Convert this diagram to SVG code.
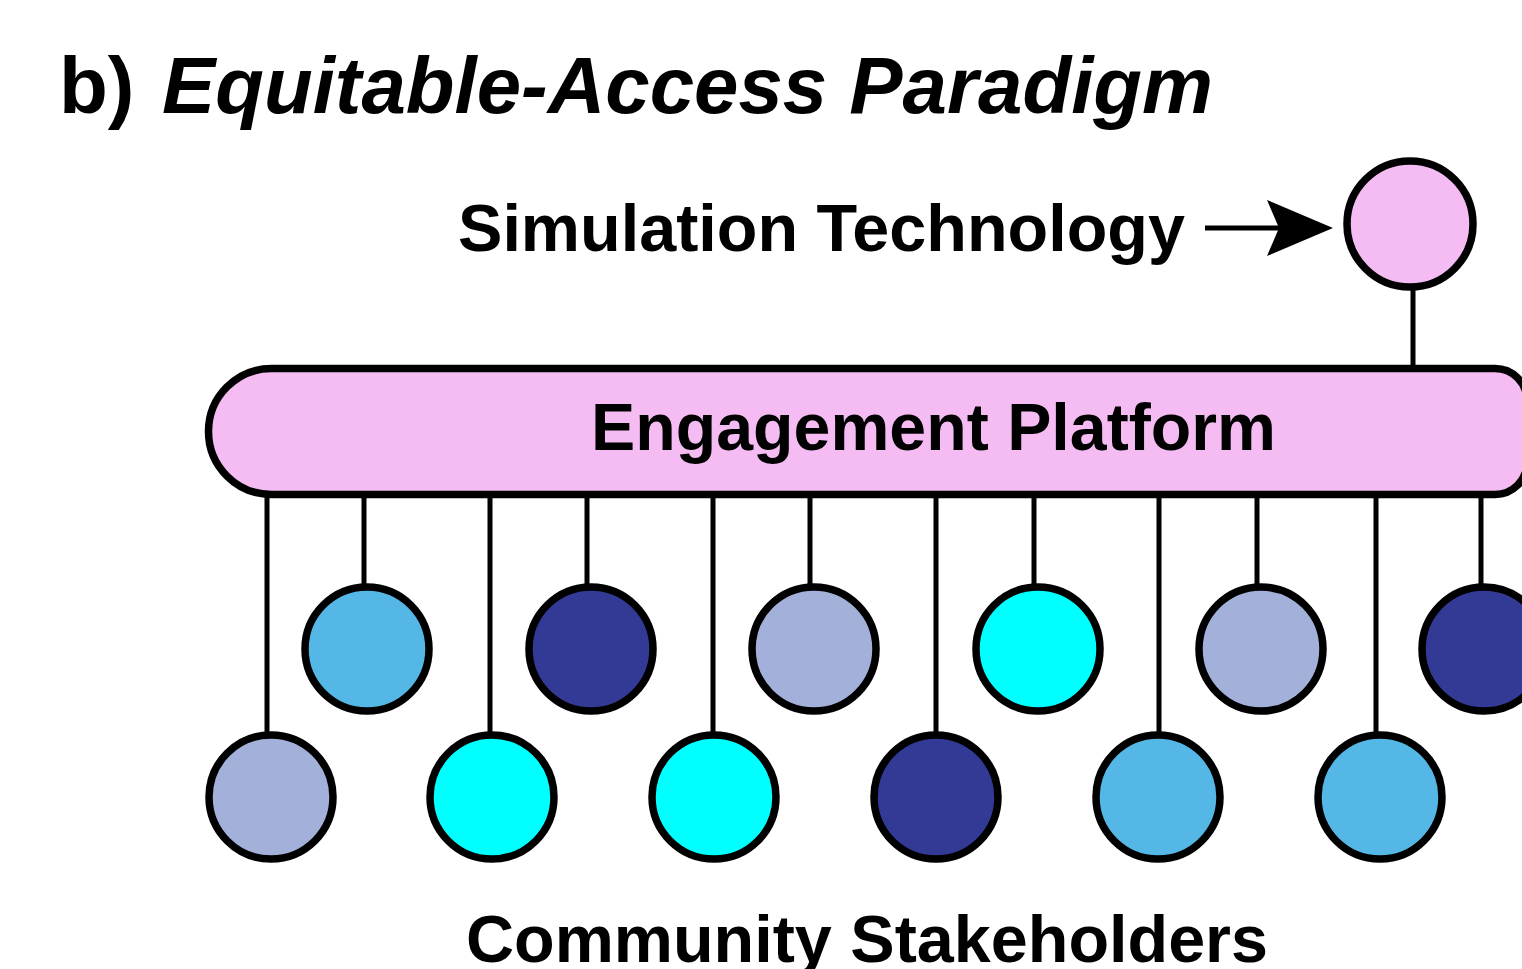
<svg xmlns="http://www.w3.org/2000/svg" width="1522" height="969" viewBox="0 0 1522 969">
  <style>
    .lbl { font-family: "Liberation Sans", Arial, Helvetica, sans-serif; font-weight: bold; fill: #000; }
    .node { stroke: #000; stroke-width: 7.5; }
    .link { stroke: #000; stroke-width: 5; fill: none; }
    .pink { fill: #F4BCF2; }
    .sky { fill: #55B7E6; }
    .navy { fill: #333A96; }
    .lav { fill: #A3B0DA; }
    .cyan { fill: #00FFFF; }
  </style>
  <rect width="1522" height="969" fill="#ffffff"/>

  <!-- heading -->
  <g id="title">
    <text class="lbl" x="59" y="113" font-size="80">b)</text>
    <text class="lbl" x="162" y="113" font-size="80" font-style="italic" textLength="1051" lengthAdjust="spacingAndGlyphs">Equitable-Access Paradigm</text>
  </g>

  <!-- connectors -->
  <g id="connectors">
    <line class="link" x1="1205" y1="228" x2="1282" y2="228"/>
    <polygon points="1333,228 1267,200 1279,228 1267,256" fill="#000"/>
    <line class="link" x1="1413" y1="288" x2="1413" y2="370"/>
    <!-- stems to the lower row -->
    <line class="link" x1="267" y1="494" x2="267" y2="734"/>
    <line class="link" x1="490" y1="494" x2="490" y2="734"/>
    <line class="link" x1="713" y1="494" x2="713" y2="734"/>
    <line class="link" x1="936" y1="494" x2="936" y2="734"/>
    <line class="link" x1="1159" y1="494" x2="1159" y2="734"/>
    <line class="link" x1="1376" y1="494" x2="1376" y2="734"/>
    <!-- stems to the upper row -->
    <line class="link" x1="364" y1="494" x2="364" y2="585"/>
    <line class="link" x1="587" y1="494" x2="587" y2="585"/>
    <line class="link" x1="810" y1="494" x2="810" y2="585"/>
    <line class="link" x1="1034" y1="494" x2="1034" y2="585"/>
    <line class="link" x1="1257" y1="494" x2="1257" y2="585"/>
    <line class="link" x1="1481" y1="494" x2="1481" y2="585"/>
  </g>

  <g id="simulation-technology">
    <text class="lbl" x="458" y="251" font-size="67" textLength="727" lengthAdjust="spacingAndGlyphs">Simulation Technology</text>
    <circle class="node pink" cx="1410" cy="224" r="63"/>
  </g>

  <g id="engagement-platform">
    <path class="node pink" d="M271.5 368.5 H1495 A32 32 0 0 1 1527 400.5 V462.5 A32 32 0 0 1 1495 494.5 H271.5 A63 63 0 0 1 271.5 368.5 Z"/>
    <text class="lbl" x="591" y="450" font-size="66" textLength="685" lengthAdjust="spacingAndGlyphs">Engagement Platform</text>
  </g>

  <!-- upper row of stakeholders -->
  <g id="stakeholder-u1"><circle class="node sky" cx="367" cy="649" r="62"/></g>
  <g id="stakeholder-u2"><circle class="node navy" cx="591" cy="649" r="62"/></g>
  <g id="stakeholder-u3"><circle class="node lav" cx="814" cy="649" r="62"/></g>
  <g id="stakeholder-u4"><circle class="node cyan" cx="1038" cy="649" r="62"/></g>
  <g id="stakeholder-u5"><circle class="node lav" cx="1261" cy="649" r="62"/></g>
  <g id="stakeholder-u6"><circle class="node navy" cx="1484" cy="649" r="62"/></g>

  <!-- lower row of stakeholders -->
  <g id="stakeholder-l1"><circle class="node lav" cx="271" cy="797" r="62"/></g>
  <g id="stakeholder-l2"><circle class="node cyan" cx="492" cy="797" r="62"/></g>
  <g id="stakeholder-l3"><circle class="node cyan" cx="714" cy="797" r="62"/></g>
  <g id="stakeholder-l4"><circle class="node navy" cx="936" cy="797" r="62"/></g>
  <g id="stakeholder-l5"><circle class="node sky" cx="1158" cy="797" r="62"/></g>
  <g id="stakeholder-l6"><circle class="node sky" cx="1380" cy="797" r="62"/></g>

  <g id="community-label">
    <text class="lbl" x="466" y="962" font-size="66" textLength="802" lengthAdjust="spacingAndGlyphs">Community Stakeholders</text>
  </g>
</svg>
